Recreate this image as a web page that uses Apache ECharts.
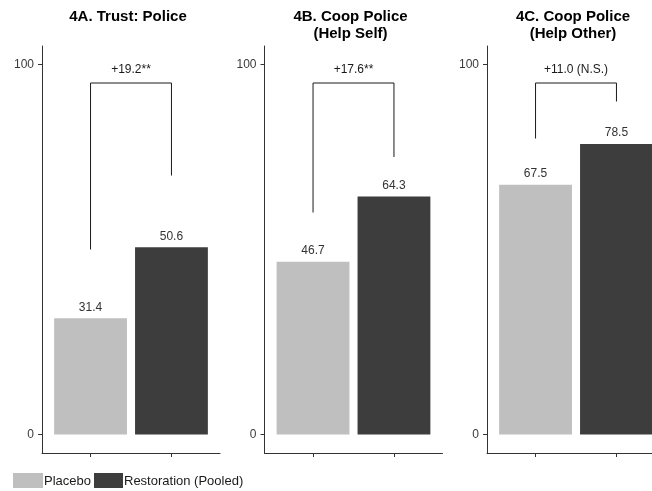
<!DOCTYPE html>
<html>
<head>
<meta charset="utf-8">
<script src="https://cdn.jsdelivr.net/npm/echarts@6/dist/echarts.min.js"></script>
<style>
  html, body { margin: 0; padding: 0; background: #fff; overflow: hidden; }
  /* 第三个面板在原图右侧被截断，所以画布比窗口略宽 */
  #main { width: 666px; height: 491px; }
</style>
</head>
<body>
<div id="main"></div>
<script>
// 数据
var panelTitles = ['4A. Trust: Police', '4B. Coop Police\n(Help Self)', '4C. Coop Police\n(Help Other)'];
var groups = ['Placebo', 'Restoration (Pooled)'];
var placebo = [31.4, 46.7, 67.5];
var restoration = [50.6, 64.3, 78.5];
var diffLabels = ['+19.2**', '+17.6**', '+11.0 (N.S.)'];
var bracketLeft = [50, 60, 80];
var bracketRight = [70, 75, 90];
var bracketTop = [95, 95, 95];
var yTicks = [0, 100];
var xTicks = [1, 2];

var FONT = '"Liberation Sans", Arial, Helvetica, sans-serif';
var colors = ['#bfbfbf', '#3d3d3d'];
var gridLeft = [42, 264.5, 487];
var PANEL_W = 178;

var chart = echarts.init(document.getElementById('main'), null, {renderer: 'canvas'});

function barItem(params, api) {
    var x = api.value(0), v = api.value(1);
    var p0 = api.coord([x - 0.45, v]);
    var p1 = api.coord([x + 0.45, 0]);
    return {
        type: 'group',
        children: [{
            type: 'rect',
            shape: {x: p0[0], y: p0[1], width: p1[0] - p0[0], height: p1[1] - p0[1]},
            style: {fill: api.visual('color')}
        }, {
            type: 'text',
            x: (p0[0] + p1[0]) / 2,
            y: p0[1] - 5,
            style: {
                text: v.toFixed(1), align: 'center', verticalAlign: 'bottom',
                font: '12px ' + FONT, fill: '#333'
            }
        }]
    };
}

function bracketItem(params, api) {
    var a = api.coord([1, api.value(0)]);
    var b = api.coord([1, api.value(2)]);
    var c = api.coord([2, api.value(2)]);
    var d = api.coord([2, api.value(1)]);
    return {
        type: 'group',
        children: [{
            type: 'polyline',
            shape: {points: [a, b, c, d]},
            style: {stroke: '#1a1a1a', lineWidth: 1, fill: null}
        }, {
            type: 'text',
            x: (b[0] + c[0]) / 2,
            y: b[1] - 13,
            style: {
                text: diffLabels[params.seriesIndex % 3], align: 'center', verticalAlign: 'middle',
                font: '12px ' + FONT, fill: '#1a1a1a'
            }
        }]
    };
}

var grids = [], xAxes = [], yAxes = [], series = [], graphics = [];
for (var i = 0; i < 3; i++) {
    grids.push({left: gridLeft[i], width: PANEL_W, top: 46, height: 407});
    xAxes.push({
        type: 'value', gridIndex: i, min: 0.4, max: 2.6,
        axisLine: {show: true, onZero: false, lineStyle: {color: '#333', width: 1}},
        axisTick: {show: true, length: 4, customValues: xTicks, lineStyle: {color: '#333'}},
        axisLabel: {show: false},
        splitLine: {show: false}
    });
    yAxes.push({
        type: 'value', gridIndex: i, min: -5, max: 105,
        axisLine: {show: true, onZero: false, lineStyle: {color: '#333', width: 1}},
        axisTick: {show: true, length: 4, customValues: yTicks, lineStyle: {color: '#333'}},
        axisLabel: {show: true, customValues: yTicks, margin: 8, fontSize: 12, fontFamily: FONT, color: '#3a3a3a'},
        splitLine: {show: false}
    });
}
// brackets first so seriesIndex % 3 matches panel
for (var i = 0; i < 3; i++) {
    series.push({
        type: 'custom', xAxisIndex: i, yAxisIndex: i,
        renderItem: bracketItem,
        data: [[bracketLeft[i], bracketRight[i], bracketTop[i]]]
    });
}
for (var i = 0; i < 3; i++) {
    series.push({
        name: groups[0], type: 'custom', xAxisIndex: i, yAxisIndex: i,
        itemStyle: {color: colors[0]},
        renderItem: barItem,
        data: [[1, placebo[i]]]
    });
    series.push({
        name: groups[1], type: 'custom', xAxisIndex: i, yAxisIndex: i,
        itemStyle: {color: colors[1]},
        renderItem: barItem,
        data: [[2, restoration[i]]]
    });
    graphics.push({
        type: 'text', x: gridLeft[i] + 86, y: 8,
        style: {
            text: panelTitles[i], align: 'center', verticalAlign: 'top',
            font: 'bold 15px ' + FONT, lineHeight: 17, fill: '#000'
        }
    });
}

// 图例
graphics.push(
    {type: 'rect', shape: {x: 13, y: 473, width: 30, height: 15}, style: {fill: colors[0]}},
    {type: 'text', x: 44, y: 481, style: {text: groups[0], verticalAlign: 'middle', font: '13px ' + FONT, fill: '#1a1a1a'}},
    {type: 'rect', shape: {x: 94, y: 473, width: 29, height: 15}, style: {fill: colors[1]}},
    {type: 'text', x: 124, y: 481, style: {text: groups[1], verticalAlign: 'middle', font: '13px ' + FONT, fill: '#1a1a1a'}}
);

var option = {
    animation: false,
    backgroundColor: '#fff',
    grid: grids,
    xAxis: xAxes,
    yAxis: yAxes,
    series: series,
    graphic: graphics
};
chart.setOption(option);
</script>
</body>
</html>
